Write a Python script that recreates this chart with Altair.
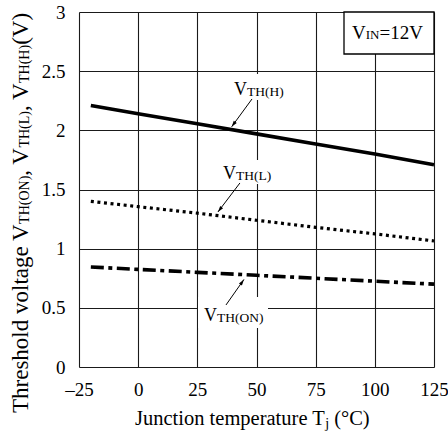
import math
import altair as alt
import pandas as pd

# ---- data ----
temps = [-20, 0, 25, 50, 75, 100, 125]
vth_h = [2.21, 2.14, 2.055, 1.97, 1.885, 1.80, 1.71]
vth_l = [1.40, 1.355, 1.30, 1.24, 1.18, 1.125, 1.065]
vth_on = [0.845, 0.825, 0.80, 0.775, 0.75, 0.725, 0.70]

x_ticks = [-25, 0, 25, 50, 75, 100, 125]
y_ticks = [0, 0.5, 1, 1.5, 2, 2.5, 3]

W, H = 355, 355
XDOM, YDOM = [-25, 125], [0, 3]
FONT = "'Liberation Serif', 'Times New Roman', Times, 'DejaVu Serif', serif"

# Times metrics (per 1000 em) for width of composed text
MET = {'T': 611, 'h': 500, 'r': 333, 'e': 444, 's': 389, 'o': 500, 'l': 278, 'd': 500,
       ' ': 250, 'v': 500, 't': 278, 'a': 444, 'g': 500, 'V': 722, 'H': 722, '(': 333,
       ')': 333, 'O': 722, 'N': 722, 'L': 611, ',': 250, 'J': 389, 'u': 500, 'n': 500,
       'c': 444, 'i': 278, 'm': 778, 'p': 500, 'j': 278, 'C': 667, '°': 400, '=': 564,
       'I': 333, '1': 500, '2': 500}


def tw(s, size):
    return sum(MET.get(ch, 500) for ch in s) / 1000.0 * size


one = pd.DataFrame({"k": [0]})

xs = alt.Scale(domain=XDOM, nice=False, zero=False)
ys = alt.Scale(domain=YDOM, nice=False, zero=False)
xaxis = alt.Axis(values=x_ticks, title=None, ticks=False, domain=False, grid=True,
                 gridColor="#1a1a1a", gridWidth=1.1, gridOpacity=1,
                 labelFont=FONT, labelFontSize=19, labelColor="black", labelPadding=13,
                 labelExpr="datum.value < 0 ? '\u2013' + format(-datum.value, 'd') : format(datum.value, 'd')",
                 labelFlush=False, labelOverlap=False)
yaxis = alt.Axis(values=y_ticks, title=None, ticks=False, domain=False, grid=True,
                 gridColor="#1a1a1a", gridWidth=1.1, gridOpacity=1, format="~g",
                 labelFont=FONT, labelFontSize=19, labelColor="black", labelPadding=14,
                 labelFlush=False, labelOverlap=False)


def X(f):
    return alt.X(f, type="quantitative", scale=xs, axis=xaxis)


def Y(f):
    return alt.Y(f, type="quantitative", scale=ys, axis=yaxis)


layers = []

# white backgrounds behind the in-plot labels (pixel boxes)
for (x1, x2, y1, y2) in [(151, 211, 62, 88), (140, 199, 148, 172), (119, 189, 285, 316)]:
    layers.append(alt.Chart(one).mark_rect(fill="white").encode(
        x=alt.value(x1), x2=alt.value(x2), y=alt.value(y1), y2=alt.value(y2)))

# V_IN box
layers.append(alt.Chart(one).mark_rect(fill="white", stroke="black", strokeWidth=1.3).encode(
    x=alt.value(265), x2=alt.value(355), y=alt.value(0), y2=alt.value(42)))

# series lines
df = pd.DataFrame({"T": temps, "H": vth_h, "L": vth_l, "ON": vth_on})
layers.append(alt.Chart(df).mark_line(color="black", strokeWidth=3.6).encode(x=X("T"), y=Y("H")))
layers.append(alt.Chart(df).mark_line(color="black", strokeWidth=3.2, strokeDash=[3, 3.6]).encode(x=X("T"), y=Y("L")))
layers.append(alt.Chart(df).mark_line(color="black", strokeWidth=3.6, strokeDash=[13, 4.5, 4, 4.5]).encode(x=X("T"), y=Y("ON")))

# arrows (annotation geometry in data units)
arrows = [(48.1, 2.265, 39.5, 2.03), (43.0, 1.555, 33.7, 1.31), (37.1, 0.524, 44.7, 0.74)]
head = "M0,0 L0.3,1 L-0.3,1 Z"
for (ax1, ay1, ax2, ay2) in arrows:
    adf = pd.DataFrame({"x1": [ax1], "y1": [ay1], "x2": [ax2], "y2": [ay2]})
    layers.append(alt.Chart(adf).mark_rule(color="black", strokeWidth=1).encode(
        x=X("x1"), y=Y("y1"), x2="x2", y2="y2"))
    dxp = (ax2 - ax1) * W / (XDOM[1] - XDOM[0])
    dyp = -(ay2 - ay1) * H / (YDOM[1] - YDOM[0])
    ang = (math.degrees(math.atan2(dyp, dxp)) + 90) % 360
    layers.append(alt.Chart(adf).mark_point(shape=head, filled=True, size=150, color="black",
                                             opacity=1, strokeWidth=0, angle=ang).encode(
        x=X("x2"), y=Y("y2")))


def seg(text, x, y, size, angle=0, baseline="alphabetic"):
    kw = dict(text=text, font=FONT, fontSize=size, color="black", align="left", baseline=baseline)
    if angle:
        kw["angle"] = angle
    return alt.Chart(one).mark_text(**kw).encode(x=alt.value(x), y=alt.value(y))


def label(parts, x, y, sub_drop=1):
    out = []
    cx = x
    for text, size, is_sub in parts:
        out.append(seg(text, cx, y + (sub_drop if is_sub else 0), size))
        cx += tw(text, size)
    return out


FM, FS = 18, 13.5
layers += label([("V", FM, False), ("TH(H)", FS, True)], 155, 83)
layers += label([("V", FM, False), ("TH(L)", FS, True)], 144, 167)
layers += label([("V", FM, False), ("TH(ON)", FS, True)], 125, 309)
layers += label([("V", 19, False), ("IN", 13, True), ("=12V", 19, False)], 273, 27, sub_drop=0)

# x title
XF, XS = 20.5, 14
x0 = 56
layers.append(seg("Junction temperature T", x0, 413, XF))
x1p = x0 + tw("Junction temperature T", XF)
layers.append(seg("j", x1p, 416, XS))
x2p = x1p + tw("j", XS) + tw(" ", XF)
layers.append(seg("(°C)", x2p, 413, XF))

# y title (rotated, reading upward)
YF, YS = 23, 14
ypos = 401
for text, size, is_sub in [("Threshold voltage V", YF, False), ("TH(ON)", YS, True),
                           (", V", YF, False), ("TH(L)", YS, True), (", V", YF, False),
                           ("TH(H)", YS, True), ("(V)", YF, False)]:
    layers.append(seg(text, -51 + (1 if is_sub else 0), ypos, size, angle=270))
    ypos -= tw(text, size)

chart = alt.layer(*layers).properties(
    width=W, height=H,
    autosize=alt.AutoSizeParams(type="none"),
    padding={"left": 79, "top": 12, "right": 14, "bottom": 68},
).configure_view(stroke="black", strokeWidth=1.6).configure(background="white")

chart.save("out.html", embed_options={"renderer": "svg", "actions": False})
